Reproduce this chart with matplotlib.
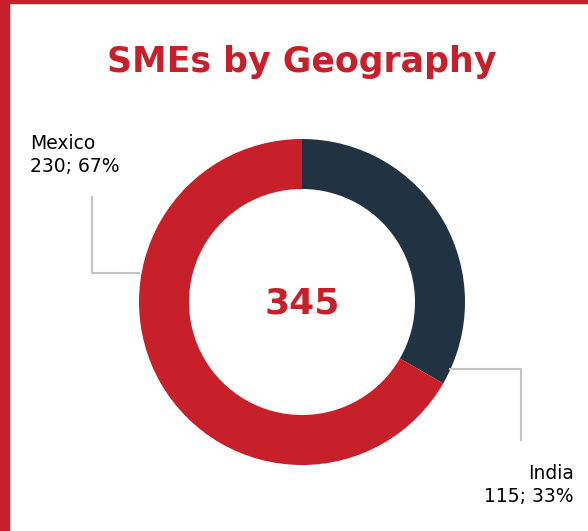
import matplotlib
matplotlib.use("Agg")
import matplotlib.pyplot as plt
from matplotlib.patches import Rectangle

# data
labels = ["India", "Mexico"]
values = [115, 230]
colors = ["#213243", "#C8202A"]
title = "SMEs by Geography"

W, H = 588, 531
red = "#C8202A"
grey = "#C4C4C4"

fig = plt.figure(figsize=(W / 100, H / 100), dpi=100)
ax = fig.add_axes([0, 0, 1, 1])

# pixel coords with y going up
def py(y):
    return H - y

cx, cy, r = 302, 302, 163
ax.pie(values, colors=colors, startangle=90, counterclock=False,
       center=(cx, py(cy)), radius=r,
       wedgeprops=dict(width=50, edgecolor="none"))
ax.set_xlim(0, W)
ax.set_ylim(0, H)
ax.set_aspect("equal")
ax.axis("off")

# frame bars
fig.patches.append(Rectangle((0, 0), 9 / W, 1, transform=fig.transFigure, color=red))
fig.patches.append(Rectangle((0, 1 - 3 / H), 1, 3 / H, transform=fig.transFigure, color=red))

total = sum(values)
ax.text(cx, py(72), title, ha="center", va="baseline", color=red,
        fontsize=25, fontweight="bold", family="DejaVu Sans")
ax.text(cx, py(313), str(total), ha="center", va="baseline", color=red,
        fontsize=26, fontweight="bold", family="DejaVu Sans")

# leader lines
ax.plot([139, 92, 92], [py(273), py(273), py(197)], color=grey, lw=1.5)
ax.plot([450, 521, 521], [py(369), py(369), py(440)], color=grey, lw=1.5)

pct = [round(v / total * 100) for v in values]
ax.text(30, py(172), f"{labels[1]}\n{values[1]}; {pct[1]}%", ha="left", va="baseline",
        fontsize=13.5, family="DejaVu Sans", linespacing=1.25)
ax.text(574, py(502), f"{labels[0]}\n{values[0]}; {pct[0]}%", ha="right", va="baseline",
        fontsize=13.5, family="DejaVu Sans", linespacing=1.25)

fig.savefig("out.png", dpi=100)
